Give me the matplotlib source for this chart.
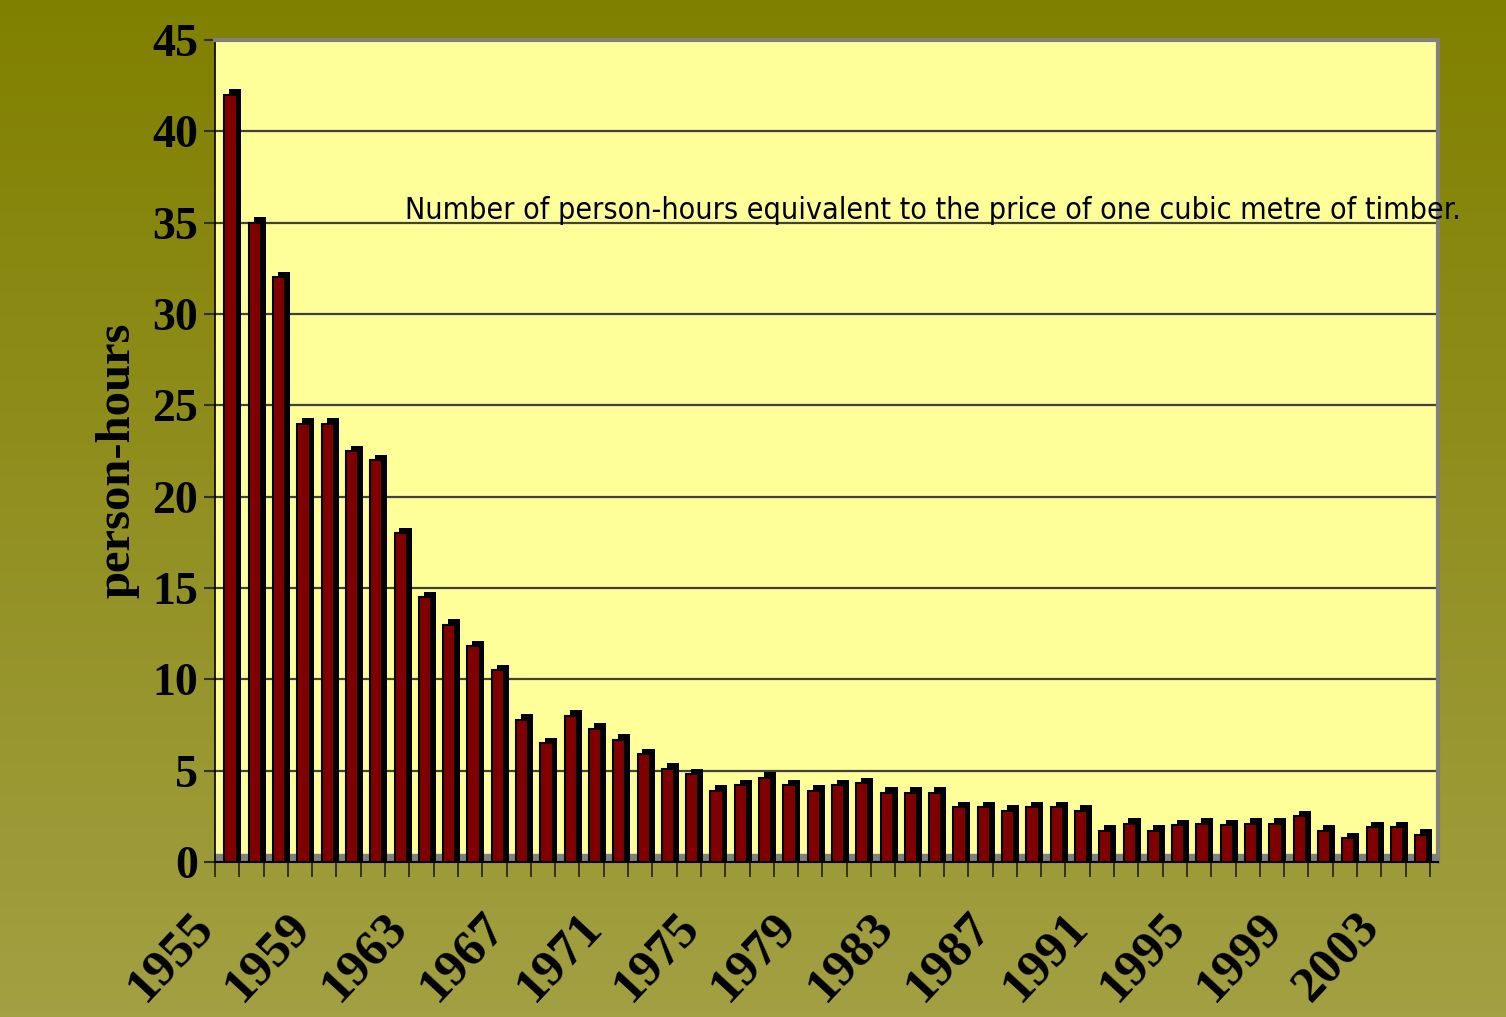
import numpy as np
import matplotlib
matplotlib.use("Agg")
import matplotlib.pyplot as plt
import matplotlib.transforms as mtransforms
from matplotlib import font_manager

# Données : heures de travail équivalentes au prix d'un m3 de bois
years = list(range(1955, 2005))
hours = [42, 35, 32, 24, 24, 22.5, 22, 18, 14.5, 13,
         11.8, 10.5, 7.8, 6.5, 8, 7.3, 6.7, 5.9, 5.1, 4.8,
         3.9, 4.2, 4.6, 4.2, 3.9, 4.2, 4.3, 3.8, 3.8, 3.8,
         3.0, 3.0, 2.8, 3.0, 3.0, 2.8, 1.7, 2.1, 1.7, 2.0,
         2.1, 2.0, 2.1, 2.1, 2.5, 1.7, 1.3, 1.9, 1.9, 1.5]
yticks = [0, 5, 10, 15, 20, 25, 30, 35, 40, 45]
label_years = years[::4]
note = "Number of person-hours equivalent to the price of one cubic metre of timber."

serif = ["Liberation Serif", "DejaVu Serif"]

# police étroite pour la note (Narrow / Condensed si dispo)
narrow_file = None
files = font_manager.findSystemFonts()
for key in ["LiberationSansNarrow-Regular", "DejaVuSansCondensed.", "RobotoCondensed-Regular",
            "OpenSans_Condensed-Regular", "OpenSansCondensed"]:
    hits = [f for f in files if key.lower() in f.lower().replace(" ", "")]
    if hits:
        narrow_file = hits[0]
        break
if narrow_file:
    note_font = font_manager.FontProperties(fname=narrow_file)
else:
    note_font = font_manager.FontProperties(family="DejaVu Sans", stretch="condensed")

fig = plt.figure(figsize=(15.06, 10.17), dpi=100)

# fond dégradé olive
bg = fig.add_axes([0, 0, 1, 1], zorder=-10)
top = np.array([128, 128, 0]) / 255
bot = np.array([162, 160, 66]) / 255
t = np.linspace(0, 1, 256)[:, None]
grad = (top * (1 - t) + bot * t)[:, None, :]
bg.imshow(grad, aspect="auto", extent=[0, 1, 0, 1])
bg.axis("off")

ax = fig.add_axes([215 / 1506, 155 / 1017, 1223 / 1506, 822 / 1017])
ax.set_facecolor("#FFFF99")

x = np.arange(len(years))
ax.set_xlim(-0.64, 49.69)
ax.set_ylim(0, 45)

# grille horizontale
for v in yticks[1:-1]:
    ax.axhline(v, color="#404040", lw=1.6, zorder=1)

# sol gris
ax.axhspan(0, 0.45, color="#808080", zorder=2)

# barres "3D" : face latérale noire + face avant rouge
ax.bar(x + 0.2, np.array(hours) + 0.3, width=0.5, color="black", zorder=3)
ax.bar(x, hours, width=0.5, color="#800000", edgecolor="black", lw=1.5, zorder=4)

# axes
for s in ["top", "right"]:
    ax.spines[s].set_color("#808080")
    ax.spines[s].set_linewidth(3)
ax.spines["left"].set_color("black")
ax.spines["left"].set_linewidth(1.2)
ax.spines["bottom"].set_color("black")
ax.spines["bottom"].set_linewidth(1.5)

ax.set_yticks(yticks)
ax.set_yticklabels([str(v) for v in yticks], fontsize=33, fontweight="bold", family=serif)
ax.tick_params(axis="y", length=8, width=1.5, pad=4, color="#303030")

ax.set_xticks(x[::4])
ax.set_xticklabels([str(y) for y in label_years], fontsize=37, fontweight="bold",
                   family=serif, rotation=47, ha="right")
ax.tick_params(axis="x", which="major", length=0, pad=30)
ax.set_xticks(np.arange(51) - 0.64, minor=True)
ax.tick_params(axis="x", which="minor", length=11, width=1.2, color="#202020")
shift = mtransforms.ScaledTranslation(-0.08, 0, fig.dpi_scale_trans)
for lab in ax.get_xticklabels():
    lab.set_transform(lab.get_transform() + shift)

ax.text(-0.0797, 0.489, "person-hours", transform=ax.transAxes, rotation=90,
        ha="center", va="center", fontsize=35, fontweight="bold", family=serif)

txt = ax.text(7.18, 35.2, note, fontproperties=note_font, fontsize=27, ha="left",
              va="baseline", zorder=6, clip_on=False)
# ajuste la taille pour que la note fasse ~1052 px de large comme l'original
fig.canvas.draw()
w = txt.get_window_extent().width
txt.set_fontsize(27 * 1052 / w)

fig.savefig("out.png", dpi=100)
